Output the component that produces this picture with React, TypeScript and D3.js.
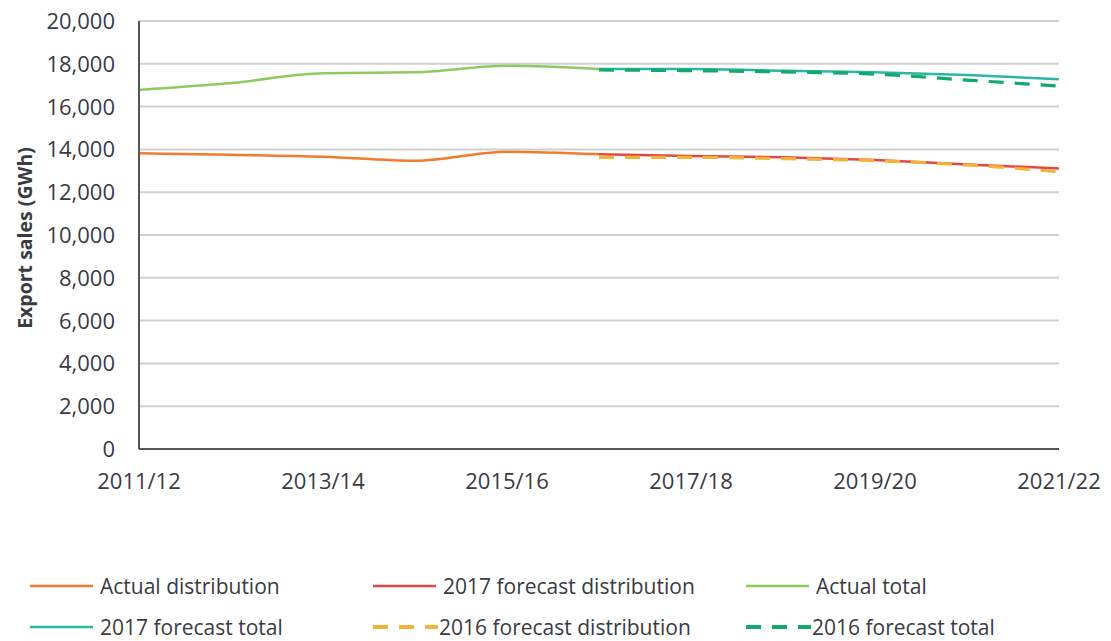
import React, { useEffect, useRef } from "react";
import * as d3 from "d3";

const years = [
  "2011/12", "2012/13", "2013/14", "2014/15", "2015/16", "2016/17",
  "2017/18", "2018/19", "2019/20", "2020/21", "2021/22",
];
const tickYears = ["2011/12", "2013/14", "2015/16", "2017/18", "2019/20", "2021/22"];

// values in GWh, null = no data for that year
const actualDistribution = [13820, 13750, 13660, 13470, 13890, 13770, null, null, null, null, null];
const forecast2017Distribution = [null, null, null, null, null, 13770, 13690, 13630, 13500, 13300, 13110];
const actualTotal = [16780, 17100, 17560, 17600, 17910, 17760, null, null, null, null, null];
const forecast2017Total = [null, null, null, null, null, 17760, 17760, 17680, 17600, 17480, 17280];
const forecast2016Distribution = [null, null, null, null, null, 13630, 13630, 13570, 13470, 13270, 12960];
const forecast2016Total = [null, null, null, null, null, 17710, 17680, 17620, 17520, 17240, 16960];

const series = [
  { name: "Actual distribution", values: actualDistribution, color: "#F47B2E", dash: null },
  { name: "2017 forecast distribution", values: forecast2017Distribution, color: "#E5463F", dash: null },
  { name: "Actual total", values: actualTotal, color: "#8DCB62", dash: null },
  { name: "2017 forecast total", values: forecast2017Total, color: "#2BB5A6", dash: null },
  { name: "2016 forecast distribution", values: forecast2016Distribution, color: "#F2B33B", dash: "15,11" },
  { name: "2016 forecast total", values: forecast2016Total, color: "#13A86C", dash: "15,11" },
];

const App: React.FC = () => {
  const svgRef = useRef<SVGSVGElement | null>(null);

  useEffect(() => {
    const width = 1111;
    const height = 641;
    const marginLeft = 139;
    const marginRight = 52;
    const marginTop = 21;
    const plotBottom = 449;
    const font = "'Open Sans', sans-serif";
    const textColor = "#3a3a42";

    const svg = d3.select(svgRef.current);
    svg.selectAll("*").remove();
    svg.attr("width", width).attr("height", height).attr("viewBox", [0, 0, width, height]);

    const x = d3
      .scalePoint()
      .domain(years)
      .range([marginLeft, width - marginRight]);

    const y = d3.scaleLinear().domain([0, 20000]).range([plotBottom, marginTop]);

    // gridlines
    svg
      .append("g")
      .selectAll("line")
      .data(y.ticks(10).filter((d) => d > 0))
      .join("line")
      .attr("x1", marginLeft)
      .attr("x2", width - marginRight)
      .attr("y1", (d) => y(d))
      .attr("y2", (d) => y(d))
      .attr("stroke", "#d0d0d0")
      .attr("stroke-width", 2);

    // y tick labels
    svg
      .append("g")
      .selectAll("text")
      .data(y.ticks(10))
      .join("text")
      .attr("x", 115)
      .attr("y", (d) => y(d))
      .attr("dy", "0.36em")
      .attr("text-anchor", "end")
      .attr("font-family", font)
      .attr("font-size", 22)
      .attr("fill", textColor)
      .text((d) => d3.format(",")(d));

    // x tick labels
    svg
      .append("g")
      .selectAll("text")
      .data(tickYears)
      .join("text")
      .attr("x", (d) => x(d) as number)
      .attr("y", 489)
      .attr("text-anchor", "middle")
      .attr("font-family", font)
      .attr("font-size", 22)
      .attr("fill", textColor)
      .text((d) => d);

    // axis title
    svg
      .append("text")
      .attr("transform", `translate(32,238) rotate(-90)`)
      .attr("text-anchor", "middle")
      .attr("font-family", font)
      .attr("font-weight", 700)
      .attr("font-size", 19.5)
      .attr("fill", textColor)
      .text("Export sales (GWh)");

    // lines
    const line = d3
      .line<number | null>()
      .defined((d) => d !== null)
      .x((_, i) => x(years[i]) as number)
      .y((d) => y(d as number))
      .curve(d3.curveMonotoneX);

    svg
      .append("g")
      .selectAll("path")
      .data(series)
      .join("path")
      .attr("d", (s) => line(s.values))
      .attr("fill", "none")
      .attr("stroke", (s) => s.color)
      .attr("stroke-width", (s) => (s.dash ? 3.2 : 2.5))
      .attr("stroke-dasharray", (s) => s.dash);

    // axes lines
    svg
      .append("line")
      .attr("x1", marginLeft)
      .attr("x2", marginLeft)
      .attr("y1", marginTop)
      .attr("y2", plotBottom)
      .attr("stroke", "#555")
      .attr("stroke-width", 2);
    svg
      .append("line")
      .attr("x1", marginLeft)
      .attr("x2", width - marginRight)
      .attr("y1", plotBottom)
      .attr("y2", plotBottom)
      .attr("stroke", "#555")
      .attr("stroke-width", 2);

    // legend
    const legendX = [30, 373, 746];
    const legendY = [586, 627];
    const legend = svg
      .append("g")
      .selectAll("g")
      .data(series)
      .join("g")
      .attr("transform", (_, i) => `translate(${legendX[i % 3]},${legendY[Math.floor(i / 3)]})`);

    legend
      .append("line")
      .attr("x1", 0)
      .attr("x2", (s) => (s.dash ? 65 : 63))
      .attr("y1", 0)
      .attr("y2", 0)
      .attr("stroke", (s) => s.color)
      .attr("stroke-width", (s) => (s.dash ? 4 : 2.5))
      .attr("stroke-dasharray", (s) => s.dash);

    legend
      .append("text")
      .attr("x", (s) => (s.dash ? 66 : 70))
      .attr("y", 0)
      .attr("dy", "0.36em")
      .attr("font-family", font)
      .attr("font-size", 21)
      .attr("fill", textColor)
      .text((s) => s.name);
  }, []);

  return (
    <div style={{ position: "absolute", left: 0, top: 0 }}>
      <svg ref={svgRef}></svg>
    </div>
  );
};

export default App;
